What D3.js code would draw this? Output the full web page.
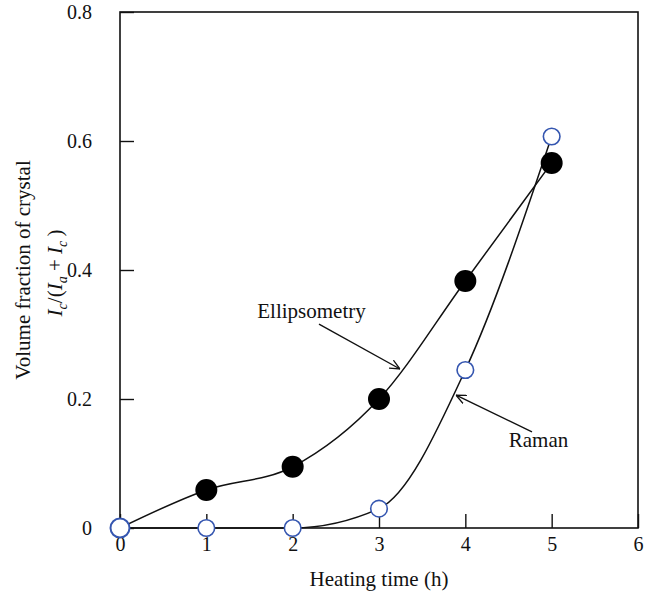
<!DOCTYPE html>
<html>
<head>
<meta charset="utf-8">
<script src="https://cdn.jsdelivr.net/npm/d3@7"></script>
<style>
  html, body { margin: 0; padding: 0; background: #fff; }
  svg { display: block; }
  text { font-family: "Liberation Serif", "Times New Roman", serif; fill: #111; }
</style>
</head>
<body>
<svg id="chart" width="651" height="594"></svg>
<script>
// ---- data ----
const hours = [0, 1, 2, 3, 4, 5];
const ellipsometry = [0, 0.059, 0.095, 0.2, 0.383, 0.566];
const raman = [0, 0, 0, 0.03, 0.245, 0.607];
const xTicks = [0, 1, 2, 3, 4, 5, 6];
const yTicks = [0, 0.2, 0.4, 0.6, 0.8];
const yTickLabels = ["0", "0.2", "0.4", "0.6", "0.8"];

// annotations (in data units)
const annotations = [
  { label: "Ellipsometry", tx: 2.218, ty: 0.326, x1: 2.305, y1: 0.316, x2: 3.243, y2: 0.2465 },
  { label: "Raman", tx: 4.848, ty: 0.1256, x1: 4.772, y1: 0.149, x2: 3.892, y2: 0.206 }
];

const svg = d3.select("#chart");
const margin = { left: 120, right: 13, top: 12, bottom: 66 };
const W = 651, H = 594;
const x = d3.scaleLinear().domain([0, 6]).range([margin.left, W - margin.right]);
const y = d3.scaleLinear().domain([0, 0.8]).range([H - margin.bottom, margin.top]);

const fontSize = 20;

// frame
svg.append("rect")
  .attr("x", x(0)).attr("y", y(0.8))
  .attr("width", x(6) - x(0)).attr("height", y(0) - y(0.8))
  .attr("fill", "none").attr("stroke", "#111").attr("stroke-width", 1.6);

// x axis (ticks inward)
const xAxis = d3.axisBottom(x).tickValues(xTicks).tickSize(-14).tickPadding(27).tickFormat(d3.format("d"));
const gx = svg.append("g").attr("transform", `translate(0,${y(0)})`).call(xAxis);
gx.select(".domain").remove();
gx.selectAll(".tick line").attr("stroke", "#111").attr("stroke-width", 1.4);
gx.selectAll(".tick text").attr("font-size", fontSize).attr("font-family", "Liberation Serif").attr("fill", "#111").attr("dy", "-0.2em");

// y axis (ticks inward)
const yAxis = d3.axisLeft(y).tickValues(yTicks).tickSize(-14).tickPadding(28)
  .tickFormat((d, i) => yTickLabels[i]);
const gy = svg.append("g").attr("transform", `translate(${x(0)},0)`).call(yAxis);
gy.select(".domain").remove();
gy.selectAll(".tick line").attr("stroke", "#111").attr("stroke-width", 1.4);
gy.selectAll(".tick text").attr("font-size", fontSize).attr("font-family", "Liberation Serif").attr("fill", "#111");

// x axis title
svg.append("text")
  .attr("x", (x(0) + x(6)) / 2).attr("y", 586)
  .attr("text-anchor", "middle").attr("font-size", 21)
  .text("Heating time (h)");

// y axis title (two lines)
svg.append("text")
  .attr("transform", `translate(30,${(y(0) + y(0.8)) / 2}) rotate(-90)`)
  .attr("text-anchor", "middle").attr("font-size", 21)
  .text("Volume fraction of crystal");

const yl2 = svg.append("text")
  .attr("transform", `translate(62,${(y(0) + y(0.8)) / 2 + 3}) rotate(-90)`)
  .attr("text-anchor", "middle").attr("font-size", 21)
  .attr("xml:space", "preserve");
yl2.append("tspan").attr("font-style", "italic").text("I");
yl2.append("tspan").attr("font-style", "italic").attr("font-size", 14).attr("dy", 5).text("c");
yl2.append("tspan").attr("dy", -5).text("/(");
yl2.append("tspan").attr("font-style", "italic").text("I");
yl2.append("tspan").attr("font-style", "italic").attr("font-size", 14).attr("dy", 5).text("a");
yl2.append("tspan").attr("dy", -5).text("\u00A0+\u00A0");
yl2.append("tspan").attr("font-style", "italic").text("I");
yl2.append("tspan").attr("font-style", "italic").attr("font-size", 14).attr("dy", 5).text("c");
yl2.append("tspan").attr("dy", -5).text("\u2009)");

// lines
const ramanData = hours.map((h, i) => [h, raman[i]]);
const ellData = hours.map((h, i) => [h, ellipsometry[i]]);
const line = d3.line().x(d => x(d[0])).y(d => y(d[1])).curve(d3.curveMonotoneX);

svg.append("path").datum(ramanData).attr("d", line)
  .attr("fill", "none").attr("stroke", "#111").attr("stroke-width", 1.5);
svg.append("path").datum(ellData).attr("d", line)
  .attr("fill", "none").attr("stroke", "#111").attr("stroke-width", 1.5);

// markers (the shared origin point shows only the open Raman marker)
svg.append("g").selectAll("circle").data(ellData.filter(d => d[0] > 0)).join("circle")
  .attr("cx", d => x(d[0])).attr("cy", d => y(d[1])).attr("r", 11)
  .attr("fill", "#000");
svg.append("g").selectAll("circle").data(ramanData).join("circle")
  .attr("cx", d => x(d[0])).attr("cy", d => y(d[1])).attr("r", (d) => d[0] === 0 ? 9.5 : 8.3)
  .attr("fill", "#fff").attr("stroke", "#3556b0").attr("stroke-width", (d) => d[0] === 0 ? 2 : 1.6);

// annotations
svg.append("defs").append("marker")
  .attr("id", "arrow").attr("viewBox", "0 0 10 10").attr("refX", 10).attr("refY", 5)
  .attr("markerWidth", 10).attr("markerHeight", 10).attr("markerUnits", "userSpaceOnUse")
  .attr("orient", "auto")
  .append("path").attr("d", "M0,0.5 L10,5 L0,9.5").attr("fill", "none")
  .attr("stroke", "#111").attr("stroke-width", 1.3);

annotations.forEach(a => {
  svg.append("line")
    .attr("x1", x(a.x1)).attr("y1", y(a.y1)).attr("x2", x(a.x2)).attr("y2", y(a.y2))
    .attr("stroke", "#111").attr("stroke-width", 1.4).attr("marker-end", "url(#arrow)");
  svg.append("text").attr("x", x(a.tx)).attr("y", y(a.ty))
    .attr("text-anchor", "middle").attr("font-size", 21).text(a.label);
});
</script>
</body>
</html>
